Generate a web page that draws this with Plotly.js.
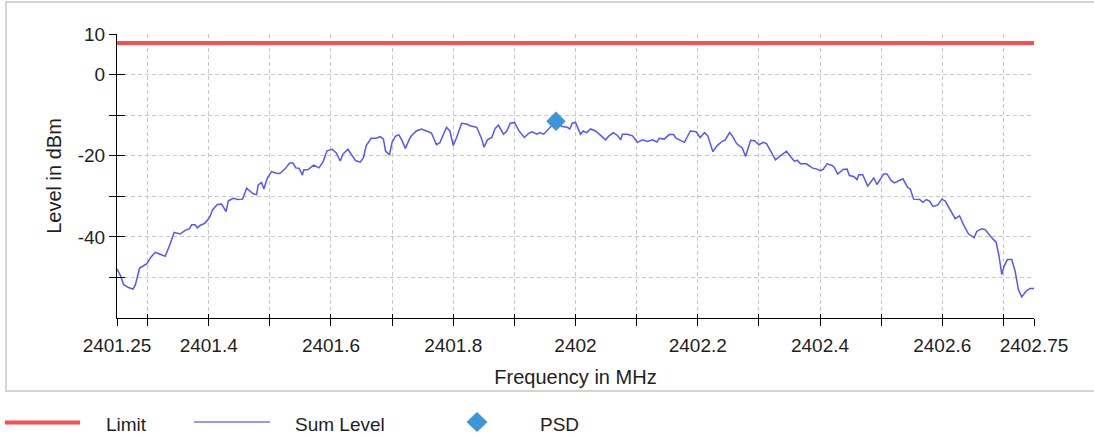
<!DOCTYPE html>
<html><head><meta charset="utf-8">
<script src="https://cdn.plot.ly/plotly-3.0.1.min.js"></script>
<style>html,body{margin:0;padding:0;background:#fff}#chart{width:1094px;height:438px}</style>
</head><body><div id="chart"></div>
<script>
// ---------- data ----------
const freqMHz = [
2401.2500,2401.2554,2401.2609,2401.2690,2401.2761,2401.2799,2401.2870,2401.2935,2401.2989,2401.3054,
2401.3125,2401.3207,2401.3288,2401.3370,2401.3435,2401.3533,2401.3614,2401.3685,2401.3723,2401.3777,
2401.3815,2401.3859,2401.3940,2401.3995,2401.4022,2401.4065,2401.4141,2401.4212,2401.4283,2401.4321,
2401.4402,2401.4484,2401.4554,2401.4620,2401.4674,2401.4728,2401.4783,2401.4810,2401.4864,2401.4902,
2401.4957,2401.5027,2401.5109,2401.5163,2401.5245,2401.5326,2401.5380,2401.5424,2401.5478,2401.5533,
2401.5554,2401.5625,2401.5717,2401.5804,2401.5870,2401.5935,2401.6022,2401.6087,2401.6152,2401.6196,
2401.6277,2401.6332,2401.6402,2401.6478,2401.6533,2401.6576,2401.6658,2401.6739,2401.6804,2401.6859,
2401.6891,2401.6957,2401.7000,2401.7054,2401.7109,2401.7163,2401.7217,2401.7283,
2401.7315,2401.7397,2401.7479,2401.7562,2401.7644,2401.7726,2401.7781,2401.7890,2401.7945,2401.8000,
2401.8055,2401.8137,2401.8219,2401.8274,2401.8384,2401.8466,2401.8504,2401.8559,2401.8630,2401.8685,
2401.8740,2401.8822,2401.8877,2401.8932,2401.9003,2401.9068,2401.9162,2401.9233,2401.9288,2401.9370,
2401.9414,2401.9479,2401.9562,2401.9616,2401.9688,2401.9781,2401.9863,2401.9907,2401.9945,2402.0000,
2402.0082,2402.0126,2402.0181,2402.0247,2402.0329,2402.0411,2402.0493,2402.0548,2402.0619,2402.0685,
2402.0740,2402.0767,2402.0849,2402.0932,2402.1014,2402.1096,2402.1178,2402.1260,2402.1332,2402.1370,
2402.1452,2402.1534,2402.1605,2402.1644,2402.1726,2402.1781,2402.1879,2402.1973,2402.2038,2402.2110,
2402.2164,2402.2247,2402.2318,2402.2395,2402.2449,2402.2521,
2402.2565,2402.2635,2402.2728,2402.2782,2402.2864,2402.2929,2402.3000,2402.3071,2402.3125,2402.3201,
2402.3272,2402.3354,2402.3452,2402.3517,2402.3582,2402.3626,2402.3680,2402.3778,2402.3871,2402.3952,
2402.4007,2402.4050,2402.4116,2402.4197,2402.4235,2402.4290,2402.4377,2402.4442,2402.4480,2402.4551,
2402.4605,2402.4633,2402.4698,2402.4780,2402.4850,2402.4878,2402.4932,2402.4986,2402.5041,2402.5095,
2402.5161,2402.5215,2402.5286,2402.5356,2402.5433,2402.5476,2402.5531,2402.5629,2402.5683,2402.5737,
2402.5792,2402.5846,2402.5922,2402.5993,2402.6048,2402.6129,2402.6211,2402.6282,2402.6347,2402.6429,
2402.6521,2402.6565,2402.6646,2402.6701,2402.6755,2402.6826,2402.6880,2402.6929,2402.6973,2402.7011,
2402.7065,2402.7136,2402.7190,2402.7245,2402.7299,2402.7370,2402.7435,2402.7500
];
const sumLevel = [
-47.9,-49.5,-51.8,-52.5,-52.9,-51.9,-47.7,-47.0,-46.6,-45.0,
-43.8,-44.3,-44.8,-41.7,-38.9,-39.3,-38.4,-38.0,-37.0,-37.0,
-37.8,-37.2,-36.6,-35.6,-34.9,-33.3,-32.0,-31.9,-33.8,-31.1,
-30.5,-30.8,-30.7,-28.0,-28.6,-29.4,-29.6,-27.2,-26.6,-28.2,
-25.6,-23.9,-24.3,-24.4,-23.3,-21.8,-21.8,-23.0,-23.1,-24.8,
-23.5,-23.4,-22.3,-23.0,-21.5,-18.8,-18.4,-19.3,-21.3,-19.6,
-18.4,-19.6,-21.2,-21.6,-20.4,-17.5,-15.7,-15.7,-15.3,-15.9,
-18.8,-19.8,-16.7,-15.2,-14.8,-16.3,-18.2,-15.9,
-15.1,-13.9,-13.4,-13.9,-14.4,-17.3,-16.8,-13.0,-13.9,-17.5,
-15.5,-12.0,-12.2,-12.6,-13.0,-15.9,-17.9,-16.1,-15.5,-13.3,
-12.5,-14.7,-13.9,-12.0,-11.8,-13.7,-15.5,-14.5,-14.1,-14.7,
-14.3,-14.7,-13.4,-12.5,-12.0,-12.8,-13.0,-13.4,-12.0,-11.8,
-14.7,-13.9,-14.3,-13.4,-13.9,-15.1,-16.1,-15.1,-14.3,-15.0,
-16.1,-14.7,-14.7,-15.1,-16.7,-16.1,-16.5,-16.1,-16.6,-15.7,
-15.9,-14.8,-14.8,-15.7,-16.3,-16.7,-13.9,-14.1,-15.5,-14.3,
-15.1,-19.0,-17.5,-16.5,-16.1,-14.3,
-15.1,-17.0,-18.1,-20.2,-16.2,-16.3,-17.3,-16.7,-17.0,-19.2,
-21.0,-20.0,-18.9,-20.2,-21.4,-21.1,-22.0,-22.0,-23.0,-23.3,
-23.7,-23.4,-22.0,-22.4,-22.9,-24.5,-23.4,-23.3,-24.9,-25.1,
-25.9,-24.7,-24.7,-27.5,-25.9,-25.5,-27.1,-25.7,-24.5,-24.5,
-26.1,-26.7,-26.1,-25.7,-27.8,-28.2,-30.7,-30.8,-31.5,-30.8,
-31.2,-32.5,-32.2,-30.7,-31.2,-33.4,-35.5,-34.8,-37.0,-39.3,
-40.2,-38.6,-38.0,-38.2,-39.3,-40.5,-41.3,-44.8,-49.3,-47.2,
-45.6,-45.6,-48.4,-53.0,-54.8,-53.4,-52.7,-52.7
];
const limitFreq = [2401.25, 2402.75];
const limitLevel = [7.8, 7.8];
const psdFreq = [2401.968];
const psdLevel = [-11.5];

const xRange = [2401.25, 2402.75];
const yRange = [-60, 10];
const xTickVals = [2401.25,2401.3,2401.4,2401.5,2401.6,2401.7,2401.8,2401.9,2402,2402.1,2402.2,2402.3,2402.4,2402.5,2402.6,2402.7,2402.75];
const xTickText = ['2401.25','','2401.4','','2401.6','','2401.8','','2402','','2402.2','','2402.4','','2402.6','','2402.75'];
const yTickVals = [10,0,-10,-20,-30,-40,-50];
const yTickText = ['10','0','','-20','','-40',''];
const seriesNames = ['Limit','Sum Level','PSD'];
const xTitle = 'Frequency in MHz';
const yTitle = 'Level in dBm';

// ---------- styles / geometry ----------
const W = 1094, H = 438;
const M = {l:117, r:60, t:34, b:120};
const PW = W - M.l - M.r, PH = H - M.t - M.b;
const px = v => (v - M.l) / PW;
const py = v => (H - M.b - v) / PH;
const FONT = 'Liberation Sans, Arial, Helvetica, sans-serif';
const TXT = '#1e1e1e';
const RED = '#ff4d4d', BLUE = '#5555ff', LEGBLUE = '#9898f6', PSDC = '#3c96dc';

const traces = [
  {x: limitFreq, y: limitLevel, name: seriesNames[0], type: 'scatter', mode: 'lines',
   line: {color: RED, width: 4}, hoverinfo: 'skip'},
  {x: freqMHz, y: sumLevel, name: seriesNames[1], type: 'scatter', mode: 'lines',
   line: {color: BLUE, width: 1.5}},
  {x: psdFreq, y: psdLevel, name: seriesNames[2], type: 'scatter', mode: 'markers',
   xaxis: 'x2', yaxis: 'y2',
   marker: {symbol: 'diamond', size: 15, color: PSDC, line: {width: 0}}}
];

const gridCommon = {showgrid: true, gridcolor: '#c8c8c8', gridwidth: 1, griddash: '4px,3px', zeroline: false};

const layout = {
  width: W, height: H,
  margin: M,
  paper_bgcolor: '#fff', plot_bgcolor: '#fff',
  showlegend: false,
  font: {family: FONT, color: TXT, size: 19},
  xaxis: Object.assign({
    range: xRange, tickmode: 'array', tickvals: xTickVals, ticktext: xTickText,
    ticks: 'outside', ticklen: 7, tickwidth: 1, tickcolor: '#000',
    showline: true, linecolor: '#000', linewidth: 1, ticklabelstandoff: 3,
    tickfont: {family: FONT, size: 19, color: TXT},
    title: {text: xTitle, font: {family: FONT, size: 20, color: TXT}, standoff: 15}
  }, gridCommon),
  yaxis: Object.assign({
    range: yRange, tickmode: 'array', tickvals: yTickVals, ticktext: yTickText,
    ticks: 'outside', ticklen: 7, tickwidth: 1, tickcolor: '#000',
    showline: true, linecolor: '#000', linewidth: 1,
    tickfont: {family: FONT, size: 19, color: TXT},
    title: {text: yTitle, font: {family: FONT, size: 20, color: TXT}, standoff: 10}
  }, gridCommon),
  xaxis2: {
    overlaying: 'x', anchor: 'y2', range: xRange, tickmode: 'array', tickvals: xTickVals,
    ticks: 'inside', ticklen: 4, tickcolor: '#000', showticklabels: false,
    showgrid: false, showline: false, zeroline: false
  },
  yaxis2: {
    overlaying: 'y', anchor: 'x2', side: 'left', range: yRange, tickmode: 'array', tickvals: yTickVals,
    ticks: 'inside', ticklen: 8, tickcolor: '#000', showticklabels: false,
    showgrid: false, showline: false, zeroline: false
  },
  shapes: [
    {type: 'rect', xref: 'paper', yref: 'paper', x0: px(6), x1: px(1100), y0: py(391), y1: py(2),
     line: {color: '#d4d4d4', width: 2}, fillcolor: 'rgba(0,0,0,0)', layer: 'below'},
    {type: 'line', xref: 'paper', yref: 'paper', x0: px(5), x1: px(80), y0: py(422.5), y1: py(422.5),
     line: {color: RED, width: 4}},
    {type: 'line', xref: 'paper', yref: 'paper', x0: px(194), x1: px(270), y0: py(422), y1: py(422),
     line: {color: LEGBLUE, width: 2}},
    {type: 'path', xref: 'paper', yref: 'paper',
     path: `M ${px(466.5)} ${py(422)} L ${px(477)} ${py(412)} L ${px(487.5)} ${py(422)} L ${px(477)} ${py(432)} Z`,
     fillcolor: PSDC, line: {width: 0}}
  ],
  annotations: [
    {xref: 'paper', yref: 'paper', x: px(104), y: py(424), xanchor: 'left', yanchor: 'middle',
     text: seriesNames[0], showarrow: false, font: {family: FONT, size: 19, color: TXT}},
    {xref: 'paper', yref: 'paper', x: px(293), y: py(424), xanchor: 'left', yanchor: 'middle',
     text: seriesNames[1], showarrow: false, font: {family: FONT, size: 19, color: TXT}},
    {xref: 'paper', yref: 'paper', x: px(538), y: py(424), xanchor: 'left', yanchor: 'middle',
     text: seriesNames[2], showarrow: false, font: {family: FONT, size: 19, color: TXT}}
  ]
};

Plotly.newPlot('chart', traces, layout, {displayModeBar: false, staticPlot: true});
</script>
</body></html>
